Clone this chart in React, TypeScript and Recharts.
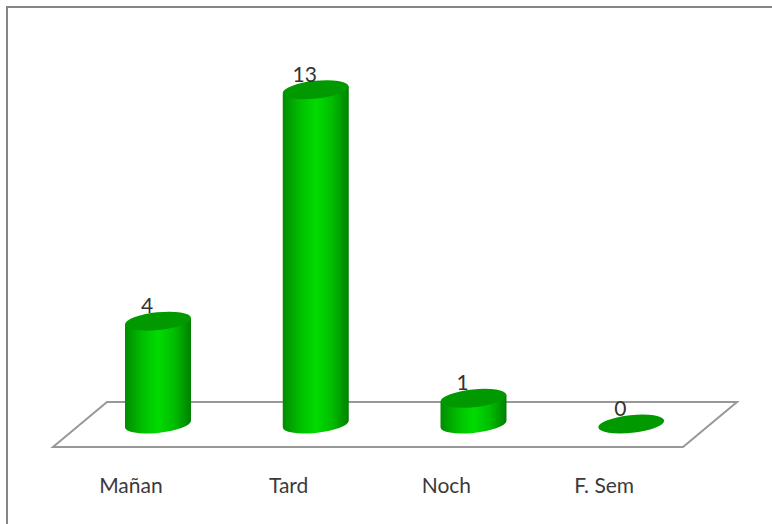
import React from "react";
import { BarChart, Bar, XAxis, YAxis, LabelList, Customized } from "recharts";

const categories = ["Mañan", "Tard", "Noch", "F. Sem"];
const values = [4, 13, 1, 0];
const data = categories.map((name, i) => ({ name, value: values[i] }));

const FONT = "Lato, 'Open Sans', sans-serif";
const TILT = -6;
const RX = 33.1;
const RY = 8.9;
const TAN = 3.2;

function Cylinder(props: any) {
  const { x, y, width, height } = props;
  const left = x;
  const right = x + width;
  const cx = x + width / 2;
  const top = y;
  const bottom = y + height;
  return (
    <g>
      {height > 0 && (
        <path
          d={`M${left},${top + TAN} L${right},${top - TAN} L${right},${bottom - TAN} A${RX},${RY} ${TILT} 0 1 ${left},${bottom + TAN} Z`}
          fill="url(#cyl)"
        />
      )}
      <ellipse
        cx={cx}
        cy={top}
        rx={RX}
        ry={RY}
        fill="#009a00"
        transform={`rotate(${TILT} ${cx} ${top})`}
      />
    </g>
  );
}

function Floor() {
  return (
    <polygon
      points="53,447 107,402 737,402 683,447"
      fill="#ffffff"
      stroke="#989898"
      strokeWidth={2}
    />
  );
}

function CategoryTick(props: any) {
  const { x, y, payload } = props;
  return (
    <text x={x - 27} y={y + 61} textAnchor="middle" fontFamily={FONT} fontSize={21} fill="#3a3a3a">
      {payload.value}
    </text>
  );
}

function ValueLabel(props: any) {
  const { x, y, width, value } = props;
  return (
    <text x={x + width / 2 - 11} y={y - 8} textAnchor="middle" fontFamily={FONT} fontSize={21} fill="#333333">
      {value}
    </text>
  );
}

export default function App() {
  return (
    <div style={{ position: "absolute", left: 0, top: 0, width: 772, height: 524, background: "#fff", overflow: "hidden" }}>
      <div style={{ position: "absolute", left: 6, top: 6, width: 780, height: 530, border: "2px solid #858585", boxSizing: "border-box" }} />
      <div style={{ position: "absolute", left: 0, top: 0 }}>
        <BarChart width={772} height={524} data={data} margin={{ top: 64, right: 62, bottom: 40, left: 79 }}>
          <defs>
            <linearGradient id="cyl" x1="0" y1="0" x2="1" y2="0">
              <stop offset="0" stopColor="#008c00" />
              <stop offset="0.25" stopColor="#00bc00" />
              <stop offset="0.5" stopColor="#00dc00" />
              <stop offset="0.75" stopColor="#00bc00" />
              <stop offset="1" stopColor="#008000" />
            </linearGradient>
          </defs>
          <Customized component={Floor} />
          <XAxis
            dataKey="name"
            axisLine={false}
            tickLine={false}
            height={60}
            interval={0}
            tick={<CategoryTick />}
          />
          <YAxis hide domain={[0, 14]} />
          <Bar dataKey="value" barSize={66} isAnimationActive={false} shape={<Cylinder />}>
            <LabelList dataKey="value" content={<ValueLabel />} />
          </Bar>
        </BarChart>
      </div>
    </div>
  );
}
